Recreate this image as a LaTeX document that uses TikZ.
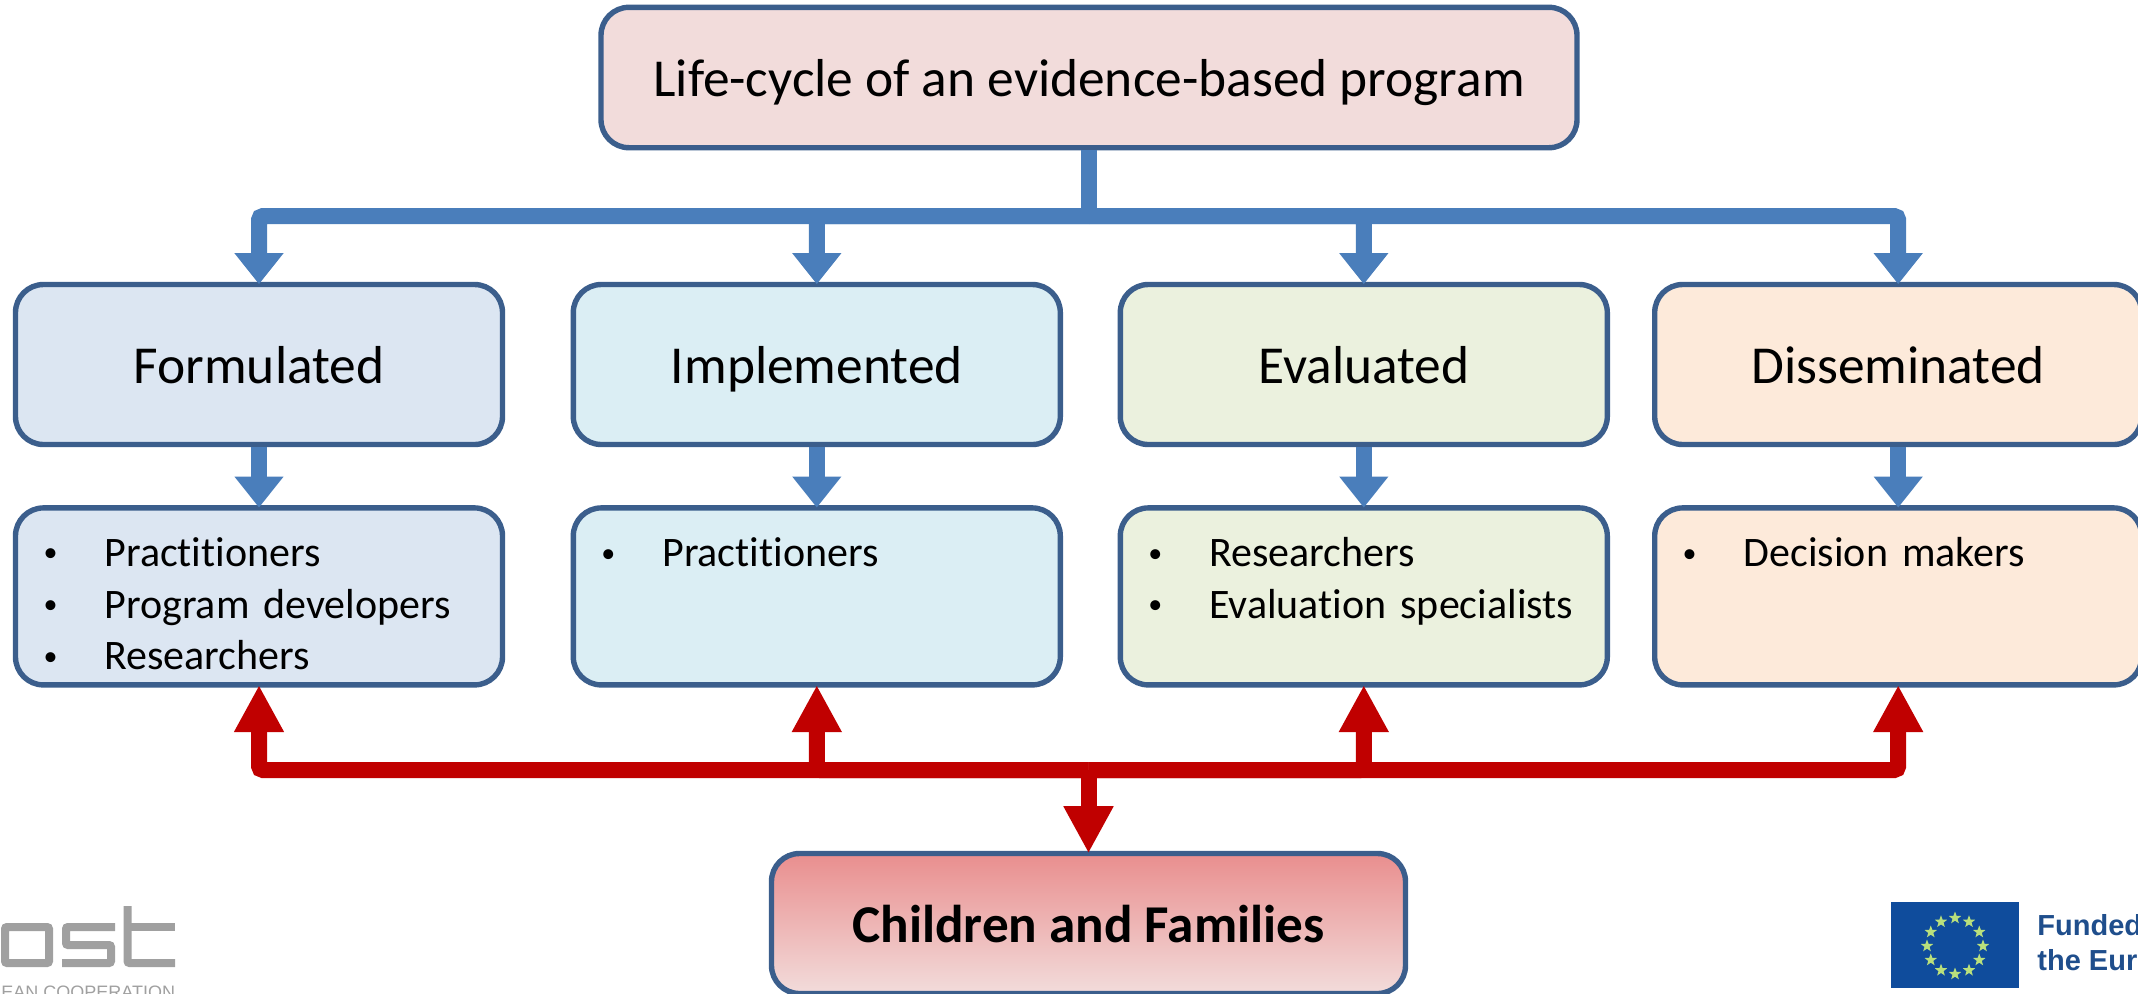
\documentclass[tikz,border=0pt]{standalone}
\usepackage{fontspec}
\setmainfont[Ligatures=NoCommon]{Carlito}
\newfontfamily\logofont{Liberation Sans}
\usetikzlibrary{arrows.meta, positioning, shapes.geometric}

\definecolor{edgeblue}{HTML}{3B5E8C}
\definecolor{linkblue}{HTML}{4A7EBB}
\definecolor{linkred}{HTML}{C00000}
\definecolor{fillpink}{HTML}{F2DCDB}
\definecolor{fillrose}{HTML}{E98E8E}
\definecolor{fillblue}{HTML}{DCE6F2}
\definecolor{fillcyan}{HTML}{DBEEF4}
\definecolor{fillgreen}{HTML}{EBF1DE}
\definecolor{fillorange}{HTML}{FDEADA}
\definecolor{logogray}{HTML}{A0A0A0}
\definecolor{euflag}{HTML}{0F4C9C}
\definecolor{eustar}{HTML}{B9E07C}
\definecolor{eutext}{HTML}{1F4E8C}

\newcommand{\bul}{\makebox[30.5pt][l]{\raisebox{2.4pt}{\fontsize{14}{14}\selectfont\textbullet}}}
\newcommand{\firstline}{\rule{0pt}{22pt}}

\tikzset{
  box/.style = {draw=edgeblue, line width=2.7pt, rounded corners=14pt, text=black},
  bigtext/.style = {font=\fontsize{26.7}{30}\selectfont, text height=20pt, text depth=1pt},
  stagebox/.style = {box, bigtext, minimum width=243.5pt, minimum height=80pt},
  listbox/.style = {box, minimum width=243.5pt, minimum height=88.5pt,
    text width=215.5pt, align=left, inner xsep=14pt, inner ysep=0pt,
    font=\fontsize{21}{25.8}\selectfont},
  barlink/.style = {draw=linkblue, line width=8pt},
  bluelink/.style = {barlink, shorten >=-1.2pt, -{Triangle[width=23.5pt, length=15.5pt, fill=linkblue]}},
  redlink/.style = {draw=linkred, line width=8pt, shorten >=-1.2pt,
    -{Triangle[width=23.5pt, length=23.5pt, fill=linkred]}}
}

\begin{document}
\begin{tikzpicture}[x=0.5pt, y=-0.5pt]
\useasboundingbox (0,0) rectangle (2138,993);

\node[box, bigtext, fill=fillpink, minimum width=488pt, minimum height=70.2pt] (top) at (1089,77.5)
  {Life-cycle of an evidence-based program};

\node[stagebox, fill=fillblue] (form) at (259,364.5) {Formulated};
\node[stagebox, fill=fillcyan] (impl) [right = 32.7pt of form] {Implemented};
\node[stagebox, fill=fillgreen] (eval) [right = 27.3pt of impl] {Evaluated};
\node[stagebox, fill=fillorange] (diss) [right = 21pt of eval] {Disseminated};

\node[listbox, fill=fillblue] (formlist) [below = 29pt of form]
  {\firstline\bul Practitioners\\ \bul Program developers\\ \bul Researchers};
\node[listbox, fill=fillcyan] (impllist) [below = 29pt of impl]
  {\firstline\bul Practitioners\\ ~\\ ~};
\node[listbox, fill=fillgreen] (evallist) [below = 29pt of eval]
  {\firstline\bul Researchers\\ \bul Evaluation specialists\\ ~};
\node[listbox, fill=fillorange] (disslist) [below = 29pt of diss]
  {\firstline\bul Decision makers\\ ~\\ ~};

\node[box, bigtext, top color=fillrose, bottom color=fillpink, minimum width=317pt, minimum height=70pt,
  font=\fontsize{26.6}{30}\selectfont\bfseries] (kids) at (1088.5,923.5) {Children and Families};

\coordinate (bluebus) at (1089,216);
\coordinate (redbus) at (1088.5,770);

\draw[barlink] (top.south) -- (bluebus);
\foreach \n in {form, impl, eval, diss} {
  \draw[bluelink] (bluebus) [rounded corners=2pt] -| (\n.north) [sharp corners];
  \draw[bluelink] (\n.south) -- (\n list.north);
  \draw[redlink] (redbus) [rounded corners=2pt] -| (\n list.south) [sharp corners];
}
\draw[redlink] (redbus) -- (kids.north);

% logo, left
\begin{scope}[draw=logogray, line width=4pt, rounded corners=1pt]
\draw (5,927) rectangle (49,963);
\draw (115,927) -- (66,927) -- (66,945) -- (111,945) -- (111,963) -- (62,963);
\draw (127.5,906) -- (127.5,963) -- (175,963);
\draw (127.5,927) -- (175,927);
\end{scope}
\node[anchor=base west, inner sep=0pt, text=logogray, font=\logofont\fontsize{9}{10}\selectfont]
  (logotext) at (1,998) {EAN COOPERATION};

% flag, right
\fill[euflag] (1891,902) rectangle (2019,988);
\begin{scope}[shift={(1955,946)}]
\foreach \a in {0,30,...,330}
  \node[star, star points=5, star point ratio=2.4, fill=eustar, inner sep=0pt, minimum size=6.5pt]
    (star\a) at (\a:28) {};
\end{scope}
\node[anchor=base west, inner sep=0pt, text=eutext, font=\logofont\bfseries\fontsize{14.5}{17}\selectfont]
  (fundA) at (2037,935) {Funded};
\node[anchor=base west, inner sep=0pt, text=eutext, font=\logofont\bfseries\fontsize{14.5}{17}\selectfont]
  (fundB) at (2037,970) {the Eur};
\end{tikzpicture}
\end{document}
